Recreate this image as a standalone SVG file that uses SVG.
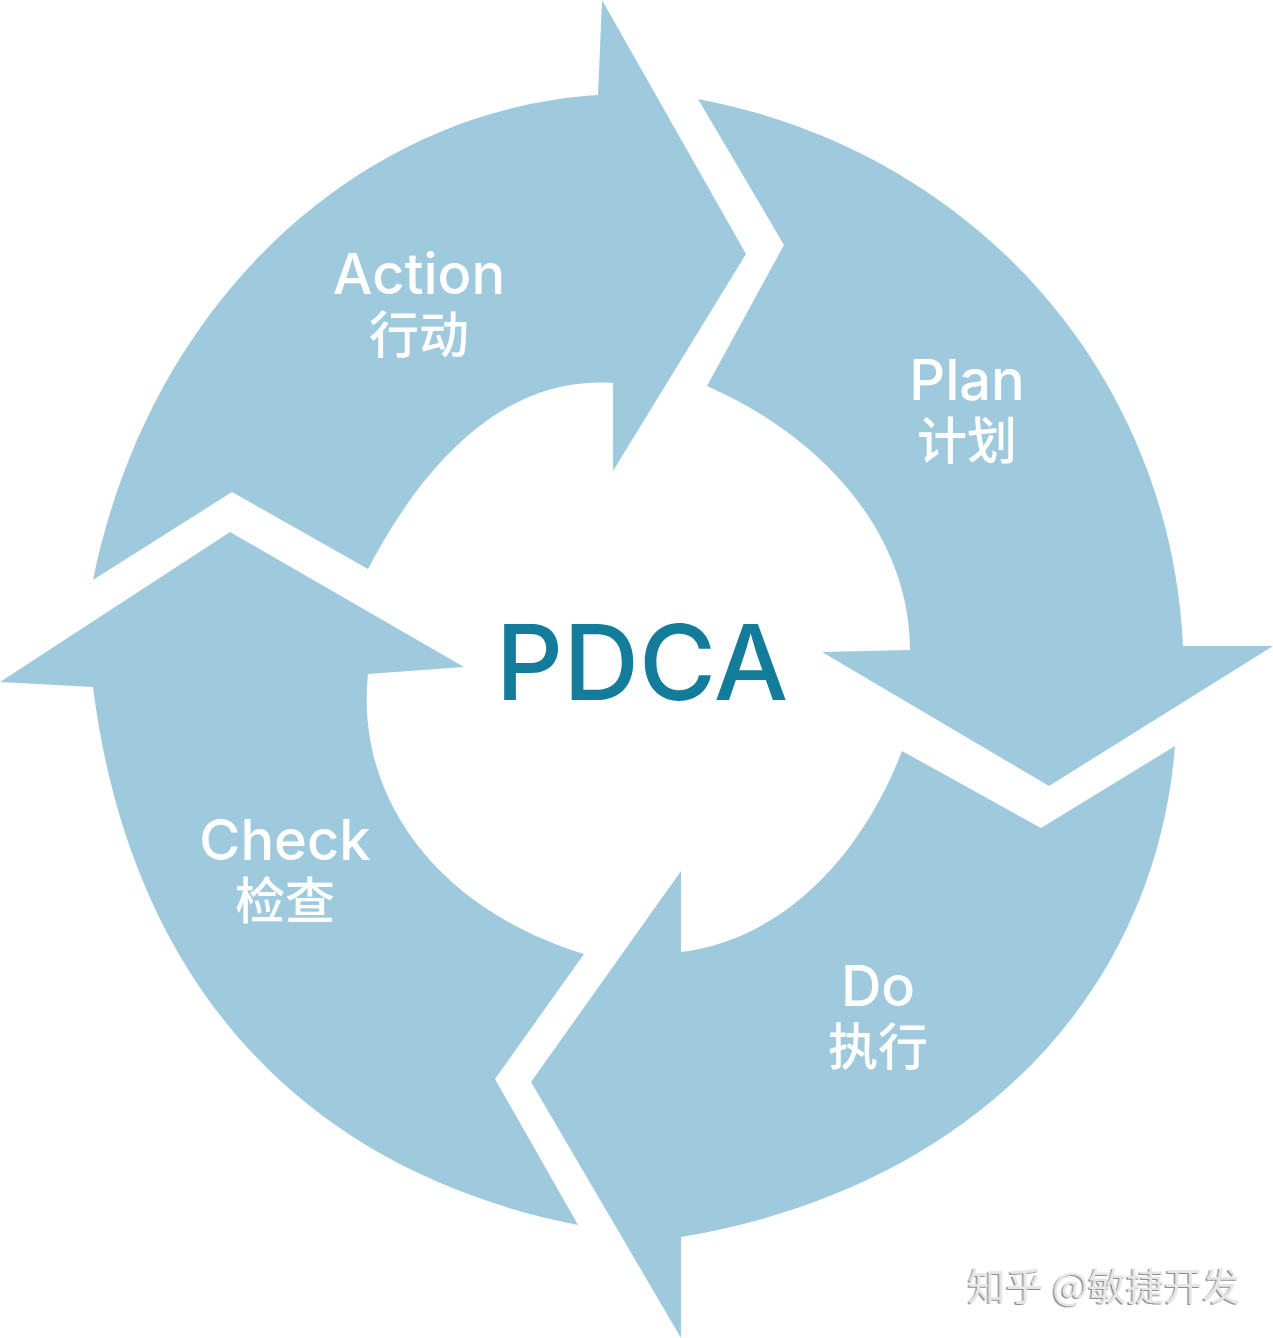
<svg xmlns="http://www.w3.org/2000/svg" width="1273" height="1338" viewBox="0 0 1273 1338">
<style>
.a{fill:#9fcadd}
.l{font-family:Inter,"Noto Sans CJK SC",sans-serif;font-size:56px;font-weight:450;fill:#fff;text-anchor:middle}
.c{font-family:"Noto Sans CJK SC",sans-serif;font-size:50px;font-weight:500;fill:#fff;text-anchor:middle}
</style>
<defs><filter id="s" x="-5%" y="-20%" width="110%" height="140%"><feDropShadow dx="-1.5" dy="1" stdDeviation="0.6" flood-color="#8f8f8f"/></filter></defs>
<rect width="1273" height="1338" fill="#fff"/>
<g id="action"><path class="a" d="M93 580C150 300 360 110 598 95L602 0L746 254L613 471L613 383C500 375 420 470 368 569L232 492Z"/>
<text class="l" x="419" y="294">Action</text><text class="c" x="419" y="353">行动</text></g>
<g id="plan"><path class="a" d="M698 99C970 150 1170 370 1183 646L1273 646L1049 786L822 652L910 650C910 540 830 440 707 386L784 245Z"/>
<text class="l" x="967" y="400">Plan</text><text class="c" x="967" y="459">计划</text></g>
<g id="do"><path class="a" d="M1175 746C1155 1000 965 1190 681 1237L681 1338L531 1082L681 871L681 952C780 940 860 860 902 751L1041 828Z"/>
<text class="l" x="878" y="1006">Do</text><text class="c" x="878" y="1065">执行</text></g>
<g id="check"><path class="a" d="M578 1225C300 1170 130 980 93 687L0 682L230 532L464 667L368 674C355 800 440 910 584 954L495 1079Z"/>
<text class="l" x="285" y="860">Check</text><text class="c" x="285" y="919">检查</text></g>
<text id="title" x="642" y="700" font-family="Inter,sans-serif" font-size="105" font-weight="500" fill="#137c9b" text-anchor="middle">PDCA</text>
<text id="mark" x="1104" y="1300" font-family="'Noto Sans CJK SC',sans-serif" font-size="38" fill="#e6e6e6" filter="url(#s)" text-anchor="middle">知乎 @敏捷开发</text>
</svg>
